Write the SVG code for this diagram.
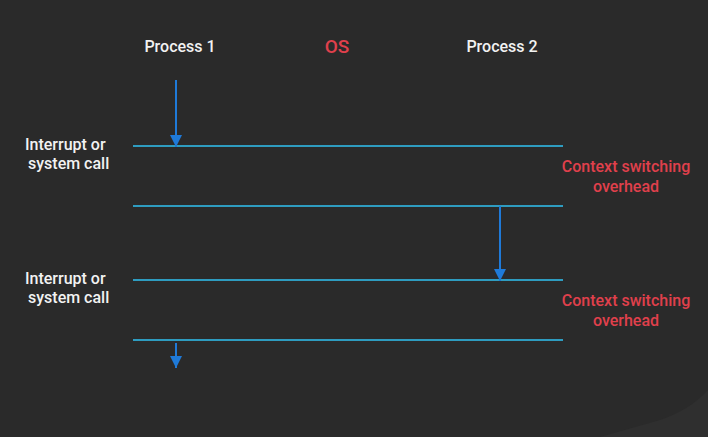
<svg xmlns="http://www.w3.org/2000/svg" width="708" height="437" viewBox="0 0 708 437">
<style>
.w{font-family:Roboto,"Liberation Sans",sans-serif;font-size:16px;font-weight:500;fill:#f2f2f2}
.r{font-family:Roboto,"Liberation Sans",sans-serif;font-size:16px;font-weight:500;fill:#e0404c}
.big{font-size:19px}
.ln{stroke:#2e9cc0;stroke-width:2}
.ar{stroke:#1f7ad8;stroke-width:2;marker-end:url(#ah)}
</style>
<defs>
<marker id="ah" viewBox="0 0 10 10" refX="10" refY="5" markerWidth="6" markerHeight="6" orient="auto" markerUnits="strokeWidth">
<path d="M0,0L10,5L0,10z" fill="#1f7ad8"/>
</marker>
</defs>
<rect width="708" height="437" fill="#2a2a2a"/>
<path d="M708,390 Q690,410 660,420 L600,437 L708,437 Z" fill="#2f2f2f"/>
<g id="headers">
<text class="w" x="180" y="52" text-anchor="middle">Process 1</text>
<text class="r big" x="337" y="53" text-anchor="middle">OS</text>
<text class="w" x="502" y="52" text-anchor="middle">Process 2</text>
</g>
<g id="labels">
<text class="w" x="25" y="150">Interrupt or</text>
<text class="w" x="28" y="169">system call</text>
<text class="w" x="25" y="284">Interrupt or</text>
<text class="w" x="28" y="303">system call</text>
<text class="r" x="626" y="172" text-anchor="middle">Context switching</text>
<text class="r" x="626" y="192" text-anchor="middle">overhead</text>
<text class="r" x="626" y="306" text-anchor="middle">Context switching</text>
<text class="r" x="626" y="326" text-anchor="middle">overhead</text>
</g>
<g id="timelines">
<line class="ln" x1="133" y1="146" x2="563" y2="146"/>
<line class="ln" x1="133" y1="206" x2="563" y2="206"/>
<line class="ln" x1="133" y1="280" x2="563" y2="280"/>
<line class="ln" x1="133" y1="340" x2="563" y2="340"/>
</g>
<g id="connectors">
<line class="ar" x1="176" y1="80" x2="176" y2="147"/>
<line class="ar" x1="500" y1="206" x2="500" y2="281"/>
<line class="ar" x1="176" y1="343" x2="176" y2="368"/>
</g>
</svg>
